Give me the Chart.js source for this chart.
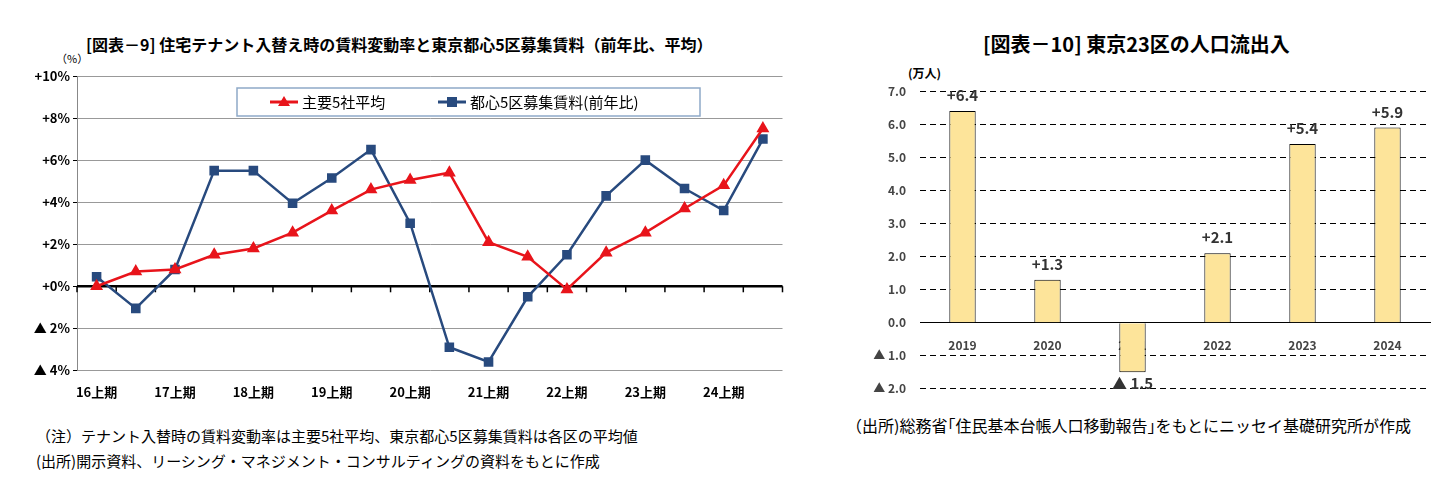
<!DOCTYPE html>
<html><head><meta charset="utf-8">
<script src="https://cdn.jsdelivr.net/npm/chart.js@4"></script>
<style>
body{margin:0;width:1455px;height:500px;background:#fff;font-family:"Noto Sans CJK JP",sans-serif;position:relative;overflow:hidden}
.t{position:absolute;white-space:nowrap;color:#000}
#c1{position:absolute;left:0;top:60px}
#c2{position:absolute;left:860px;top:70px}
</style></head><body>
<div class="t" style="left:86px;top:32px;font-size:16px;font-weight:bold">[図表－9] 住宅テナント入替え時の賃料変動率と東京都心5区募集賃料（前年比、平均）</div>
<div class="t" style="left:56px;top:50px;font-size:11px">（%）</div>
<div class="t" style="left:983px;top:29px;font-size:20px;font-weight:bold">[図表－10] 東京23区の人口流出入</div>
<div class="t" style="left:908px;top:64px;font-size:12px;font-weight:bold">(万人)</div>
<div class="t" style="left:36px;top:425px;font-size:15px">（注）テナント入替時の賃料変動率は主要5社平均、東京都心5区募集賃料は各区の平均値</div>
<div class="t" style="left:36px;top:450px;font-size:15px">(出所)開示資料、リーシング・マネジメント・コンサルティングの資料をもとに作成</div>
<div class="t" style="left:846px;top:413px;font-size:16px">（出所)総務省｢住民基本台帳人口移動報告｣をもとにニッセイ基礎研究所が作成</div>
<canvas id="c1" width="790" height="350"></canvas>
<canvas id="c2" width="580" height="340"></canvas>
<script>
const periods=["16上期","16下期","17上期","17下期","18上期","18下期","19上期","19下期","20上期","20下期","21上期","21下期","22上期","22下期","23上期","23下期","24上期","24下期"];
const major5=[0,0.7,0.8,1.5,1.8,2.55,3.6,4.6,5.05,5.4,2.1,1.4,-0.15,1.6,2.55,3.7,4.8,7.5];
const central5=[0.45,-1.05,0.8,5.5,5.5,3.95,5.15,6.5,3.0,-2.9,-3.6,-0.5,1.5,4.3,6.0,4.65,3.6,7.0];
const years=["2019","2020","2021","2022","2023","2024"];
const netInflow=[6.4,1.3,-1.5,2.1,5.4,5.9];
const pctTicks=[-4,-2,0,2,4,6,8,10];
const popTicks=[-2,-1,0,1,2,3,4,5,6,7];

Chart.defaults.font.family='"Noto Sans CJK JP",sans-serif';
Chart.defaults.color='#000';
Chart.defaults.animation=false;

const legendBox={id:'lb',afterDatasetsDraw(c){const ctx=c.ctx;ctx.save();ctx.fillStyle='#fff';ctx.fillRect(237,28,463,28);ctx.strokeStyle='#8ea9c8';ctx.lineWidth=1.5;ctx.strokeRect(237,28,463,28);
ctx.font='15px "Noto Sans CJK JP",sans-serif';ctx.textBaseline='middle';ctx.fillStyle='#000';
const items=[[270,c.data.datasets[0]],[438,c.data.datasets[1]]];
items.forEach(([x,d])=>{ctx.strokeStyle=d.borderColor;ctx.lineWidth=3;ctx.beginPath();ctx.moveTo(x,42);ctx.lineTo(x+28,42);ctx.stroke();ctx.fillStyle=d.borderColor;
if(d.pointStyle==='triangle'){ctx.beginPath();ctx.moveTo(x+14,36);ctx.lineTo(x+20,46);ctx.lineTo(x+8,46);ctx.closePath();ctx.fill();}else{ctx.fillRect(x+9,37,10,10);}
ctx.fillStyle='#000';ctx.fillText(d.label,x+32,42);});ctx.restore();}};
const zeroLine={id:'zl',beforeDatasetsDraw(c){const y=c.scales.y.getPixelForValue(0),ca=c.chartArea,ctx=c.ctx;ctx.save();ctx.strokeStyle='#000';ctx.lineWidth=2.5;ctx.beginPath();ctx.moveTo(ca.left,y);ctx.lineTo(ca.right,y);ctx.stroke();ctx.lineWidth=1.5;for(let i=0;i<=periods.length;i++){const x=ca.left+(ca.right-ca.left)*i/periods.length;ctx.beginPath();ctx.moveTo(x,y);ctx.lineTo(x,y+6);ctx.stroke();}ctx.restore();}};

new Chart(document.getElementById('c1'),{type:'line',
data:{labels:periods,datasets:[
{label:'主要5社平均',data:major5,borderColor:'#e8141b',backgroundColor:'#e8141b',borderWidth:2.5,pointStyle:'triangle',pointRadius:5,tension:0},
{label:'都心5区募集賃料(前年比)',data:central5,borderColor:'#284a7e',backgroundColor:'#284a7e',borderWidth:2.5,pointStyle:'rect',pointRadius:5,tension:0}]},
options:{responsive:false,layout:{padding:{left:0,right:6,top:16,bottom:4}},
plugins:{legend:{display:false},tooltip:{enabled:false}},
scales:{x:{offset:true,grid:{display:false},border:{display:false},ticks:{autoSkip:false,maxRotation:0,padding:6,font:{size:13,weight:'bold'},callback:(v,i)=>i%2===0?periods[i]:''}},
y:{min:-4,max:10,afterFit(s){s.width=77},afterBuildTicks(s){s.ticks=pctTicks.map(v=>({value:v}))},grid:{color:'#999',drawTicks:true,tickLength:4,tickColor:'#000'},border:{color:'#888'},
 ticks:{font:{size:13,weight:'bold'},callback:v=>v<0?'▲ '+(-v)+'%':'+'+v+'%'}}}},
plugins:[zeroLine,legendBox]});

const barLabels={id:'bl',afterDatasetsDraw(c){const ctx=c.ctx,m=c.getDatasetMeta(0);ctx.save();ctx.font='bold 15px "Noto Sans CJK JP",sans-serif';ctx.fillStyle='#333';ctx.textAlign='center';
m.data.forEach((b,i)=>{const v=netInflow[i];if(v>=0){ctx.textBaseline='bottom';ctx.fillText('+'+v.toFixed(1),b.x,b.y-8);}else{ctx.textBaseline='top';ctx.fillText('▲ '+(-v).toFixed(1),b.x,b.y+4);}});ctx.restore();}};
new Chart(document.getElementById('c2'),{type:'bar',
data:{labels:years,datasets:[{data:netInflow,backgroundColor:'#fde49a',borderColor:'#000',borderWidth:1,barPercentage:0.31,categoryPercentage:1}]},
options:{responsive:false,layout:{padding:{top:18,right:10,bottom:12}},plugins:{legend:{display:false},tooltip:{enabled:false}},
scales:{x:{position:{y:0},grid:{display:false},border:{color:'#000'},ticks:{font:{size:12,weight:'bold'},color:'#444',padding:8}},
y:{min:-2,max:7,afterFit(s){s.width=60},afterBuildTicks(s){s.ticks=popTicks.map(v=>({value:v}))},grid:{color:'#000',drawTicks:false},border:{display:false,dash:[6,4]},
 ticks:{padding:14,font:{size:12,weight:'bold'},color:'#444',callback:v=>v<0?'▲ '+(-v).toFixed(1):v.toFixed(1)}}}},
plugins:[barLabels]});
</script></body></html>
